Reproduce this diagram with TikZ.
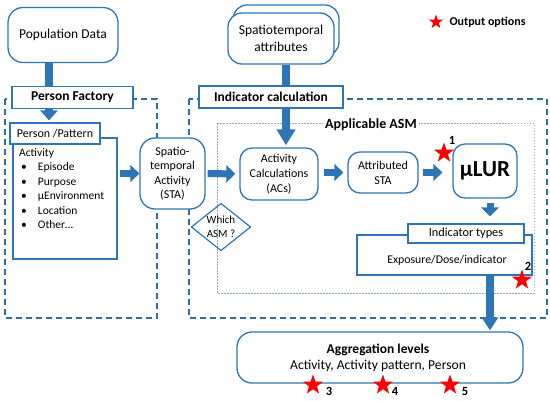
\documentclass[tikz,border=0pt]{standalone}
\usepackage{fontspec}
\setmainfont{Carlito}
\usetikzlibrary{arrows.meta,shapes.geometric}
\definecolor{bl}{HTML}{2E75B6}
\definecolor{bd}{HTML}{2F6AA3}
\definecolor{dot}{HTML}{8EA9C9}
\begin{document}
\begin{tikzpicture}[x=1pt,y=-1pt,
  every node/.style={font=\fontsize{11.5}{14.5}\selectfont, text=black},
  rbox/.style={draw=bl, line width=1.3pt, fill=white, align=center, inner sep=0pt},
  sqbox/.style={draw=bl, line width=1.1pt, fill=white, inner sep=0pt},
  varrow/.style={draw=bl, line width=7.5pt, -{Triangle[width=17pt,length=10pt]}},
  harrow/.style={draw=bl, line width=7pt, -{Triangle[width=17pt,length=9pt]}},
  dbox/.style={draw=bd, dash pattern=on 6pt off 4pt, line width=1.2pt},
  dotbox/.style={draw=dot, dash pattern=on 1.5pt off 1.5pt, line width=1pt},
  ostar/.style={star, star points=5, star point ratio=2.5, fill=red, draw=none, inner sep=0pt, minimum size=21pt},
  num/.style={font=\bfseries\fontsize{12.5}{14}\selectfont, inner sep=0pt},
  hdr/.style={font=\bfseries\fontsize{13.5}{16}\selectfont}
]
\useasboundingbox (0,0) rectangle (550,400);

% dashed / dotted containers
\draw[dbox] (5,99) rectangle (157,318);
\draw[dbox] (189,99) rectangle (547,318);
\draw[dotbox] (217,123) rectangle (534,293);

% main nodes
\node[rbox, rounded corners=15pt, minimum width=110pt, minimum height=55pt, font=\fontsize{13.5}{16}\selectfont] (pop) at (63,35) {Population Data};

\draw[draw=bl, line width=1.3pt, fill=white, rounded corners=14pt] (233,5) rectangle (339,56);
\node[rbox, rounded corners=14pt, minimum width=106pt, minimum height=51pt, font=\fontsize{13.5}{17}\selectfont] (sa) at (281,38.5) {Spatiotemporal\\attributes};

\node[sqbox, minimum width=104pt, minimum height=121pt] (ppbody) at (65,198.5) {};
\node[sqbox, minimum width=90pt, minimum height=21pt, font=\fontsize{12}{14}\selectfont] (pphead) at (55,133.5) {Person /Pattern};
\node[anchor=north west, align=left, inner sep=0pt] (pplist) at (19,148) {Activity\\
\hspace*{2pt}\textbullet\hspace{11pt}Episode\\
\hspace*{2pt}\textbullet\hspace{11pt}Purpose\\
\hspace*{2pt}\textbullet\hspace{11pt}µEnvironment\\
\hspace*{2pt}\textbullet\hspace{11pt}Location\\
\hspace*{2pt}\textbullet\hspace{11pt}Other…};

\node[rbox, rounded corners=15pt, minimum width=65pt, minimum height=71pt, font=\fontsize{12}{14.5}\selectfont] (sta) at (172.5,173.5) {Spatio-\\temporal\\Activity\\(STA)};
\node[rbox, rounded corners=12pt, minimum width=78pt, minimum height=52pt, font=\fontsize{12}{15}\selectfont] (ac) at (279,174) {Activity\\Calculations\\(ACs)};
\node[rbox, rounded corners=12pt, minimum width=70pt, minimum height=41pt, font=\fontsize{12}{15}\selectfont] (ast) at (383,172.5) {Attributed\\STA};
\node[rbox, rounded corners=12pt, minimum width=64pt, minimum height=54pt, font=\bfseries\fontsize{23}{26}\selectfont] (mlur) at (485,171) {µLUR};

\node[sqbox, minimum width=175pt, minimum height=40pt] (expo) at (444.5,255) {};
\node[sqbox, minimum width=116pt, minimum height=19pt, font=\fontsize{12.3}{14}\selectfont] (ith) at (466,233.5) {Indicator types};
\node[font=\fontsize{11.8}{14}\selectfont] (expotxt) at (447,260) {Exposure/Dose/indicator};

\node[rbox, rounded corners=15pt, minimum width=286pt, minimum height=51pt] (agg) at (380,357.5) {};
\node[hdr, font=\bfseries\fontsize{13.5}{16}\selectfont] (aggt) at (378,350) {Aggregation levels};
\node[font=\fontsize{13.6}{16}\selectfont] (aggs) at (378,366) {Activity, Activity pattern, Person};

% which ASM diamond
\node[font=\fontsize{11}{14}\selectfont, align=center, inner sep=0pt] (which) at (221,227) {Which\\ASM ?};
\draw[draw=bl, line width=1.2pt] ([xshift=-29.5pt]which.center) -- ([yshift=-23.5pt]which.center) -- ([xshift=29.5pt]which.center) -- ([yshift=23.5pt]which.center) -- cycle;

% block arrows
\coordinate (dn) at (490,0);
\draw[varrow, shorten >=2pt] ([xshift=-14pt]pop.south) -- ([xshift=-14pt]pop.south |- pphead.north);
\draw[varrow, -{Triangle[width=18pt,length=16pt]}, shorten >=2pt] ([xshift=7pt]ac.north |- sa.south) -- ([xshift=7pt]ac.north);
\draw[harrow, shorten <=2pt] (ppbody.east |- sta.west) -- (sta.west);
\draw[harrow, shorten <=2pt, shorten >=4pt] (sta.east) -- (ac.west);
\draw[harrow, shorten <=5pt, shorten >=4pt] (ac.east |- ast.west) -- (ast.west);
\draw[harrow, shorten <=4pt, shorten >=10pt] (ast.east) -- (mlur.west |- ast.east);
\draw[harrow, shorten <=4pt, shorten >=7pt] (mlur.south -| dn) -- (ith.north -| dn);
\draw[varrow, -{Triangle[width=16pt,length=13pt]}, shorten >=1pt] (expo.south -| dn) -- (agg.north -| dn);

% header boxes on top of arrows
\node[sqbox, minimum width=121pt, minimum height=22pt, hdr] (pf) at (72.5,97.5) {Person Factory};
\node[sqbox, minimum width=144pt, minimum height=22pt, hdr] (ic) at (271,97) {Indicator calculation};
\node[fill=white, inner sep=2pt, font=\bfseries\fontsize{14}{16}\selectfont] (asm) at (371,125) {Applicable ASM};

% output option stars
\node[ostar, minimum size=15pt] (s0) at (436,22) {};
\node[anchor=west, font=\bfseries\fontsize{12}{14}\selectfont] (lg) at (446,22) {Output options};
\node[ostar] (s1) at (444,153) {};
\node[num] (n1) at (452,140) {1};
\node[ostar] (s2) at (522,280) {};
\node[num] (n2) at (528,266) {2};
\node[ostar] (s3) at (313,385) {};
\node[num] (n3) at (329,391.5) {3};
\node[ostar] (s4) at (383,385) {};
\node[num] (n4) at (395,391.5) {4};
\node[ostar] (s5) at (450,385) {};
\node[num] (n5) at (465,391.5) {5};
\end{tikzpicture}
\end{document}
